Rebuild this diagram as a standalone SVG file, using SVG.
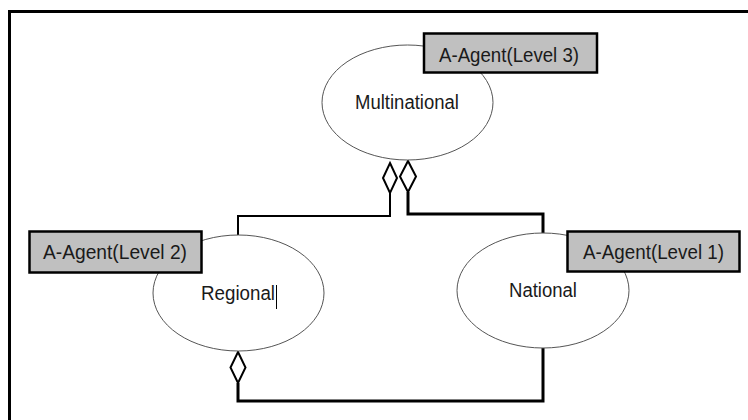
<svg xmlns="http://www.w3.org/2000/svg" width="748" height="420" viewBox="0 0 748 420">
  <style>
    .frame { fill: none; stroke: #000; stroke-width: 3; }
    .entity { fill: #fff; stroke: #555; stroke-width: 1; }
    .tag { fill: #c0c0c0; stroke: #000; stroke-width: 2.5; }
    .label { font-family: "Liberation Sans", Arial, sans-serif; font-size: 20px; fill: #1a1a1a; }
    .link { fill: none; stroke: #000; stroke-width: 2; }
    .link.heavy { stroke-width: 3; }
    .agg { fill: #fff; stroke: #000; stroke-width: 2; }
  </style>

  <rect width="748" height="420" fill="#fff"/>
  <!-- outer frame (runs off the right and bottom edges) -->
  <path class="frame" d="M9.5,430 V11.5 H760"/>

  <!-- aggregation connectors -->
  <g id="connectors">
    <path class="link" d="M390,193 V216 H238 V236"/>
    <path class="link heavy" d="M408,192 V214 H543 V233"/>
    <path class="link heavy" d="M238,383 V401 H543 V348"/>
    <path class="agg" d="M390,163 L397,178 L390,193 L383,178 Z"/>
    <path class="agg" d="M408,161 L416,176.5 L408,192 L400,176.5 Z"/>
    <path class="agg" d="M238,352 L245.5,367.5 L238,383 L230.5,367.5 Z"/>
  </g>

  <g id="multinational">
    <ellipse class="entity" cx="407.5" cy="102.5" rx="85.5" ry="57.5"/>
    <text class="label" x="355" y="109" textLength="104" lengthAdjust="spacingAndGlyphs">Multinational</text>
  </g>
  <g id="tag-level3">
    <rect class="tag" x="424" y="33.5" width="173" height="39"/>
    <text class="label" x="439" y="61.5" textLength="140" lengthAdjust="spacingAndGlyphs">A-Agent(Level 3)</text>
  </g>

  <g id="regional">
    <ellipse class="entity" cx="238.5" cy="293" rx="85.5" ry="58"/>
    <text class="label" x="201" y="300" textLength="74" lengthAdjust="spacingAndGlyphs">Regional</text>
    <line x1="276.5" y1="285" x2="276.5" y2="309" stroke="#000" stroke-width="1"/>
  </g>
  <g id="tag-level2">
    <rect class="tag" x="29.5" y="231.5" width="172" height="41"/>
    <text class="label" x="43" y="259" textLength="144" lengthAdjust="spacingAndGlyphs">A-Agent(Level 2)</text>
  </g>

  <g id="national">
    <ellipse class="entity" cx="543" cy="290.5" rx="86" ry="57.5"/>
    <text class="label" x="509" y="297" textLength="68" lengthAdjust="spacingAndGlyphs">National</text>
  </g>
  <g id="tag-level1">
    <rect class="tag" x="567.5" y="231.5" width="172" height="40"/>
    <text class="label" x="583" y="259" textLength="141" lengthAdjust="spacingAndGlyphs">A-Agent(Level 1)</text>
  </g>
</svg>
